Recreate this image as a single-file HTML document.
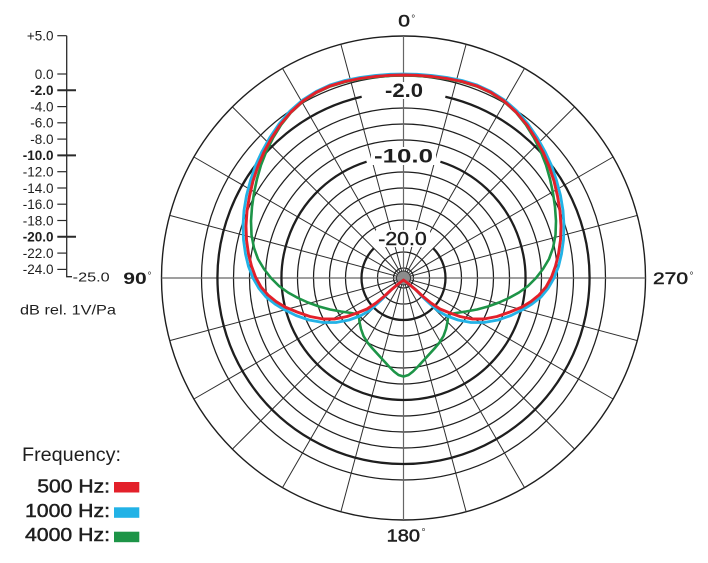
<!DOCTYPE html>
<html>
<head>
<meta charset="utf-8">
<style>
  html,body{margin:0;padding:0;background:#fff;}
  svg{display:block;}
  text{font-family:"Liberation Sans", sans-serif;fill:#1e1e1e;}
</style>
</head>
<body>
<svg width="708" height="563" viewBox="0 0 708 563" xmlns="http://www.w3.org/2000/svg">
  <rect width="708" height="563" fill="#fff"/>

  <!-- ===== Left dB scale ===== -->
  <g stroke="#2a2a2a" fill="none">
    <polyline points="66.7,35.7 66.7,276.7 72,276.7" stroke-width="1.3"/>
    <g stroke-width="1.2">
      <line x1="57.3" y1="35.7" x2="66.7" y2="35.7"/>
      <line x1="57.3" y1="74" x2="66.7" y2="74"/>
      <line x1="57.3" y1="106.6" x2="66.7" y2="106.6"/>
      <line x1="57.3" y1="122.8" x2="66.7" y2="122.8"/>
      <line x1="57.3" y1="139.1" x2="66.7" y2="139.1"/>
      <line x1="57.3" y1="171.7" x2="66.7" y2="171.7"/>
      <line x1="57.3" y1="188" x2="66.7" y2="188"/>
      <line x1="57.3" y1="204.2" x2="66.7" y2="204.2"/>
      <line x1="57.3" y1="220.5" x2="66.7" y2="220.5"/>
      <line x1="57.3" y1="253.1" x2="66.7" y2="253.1"/>
      <line x1="57.3" y1="269.4" x2="66.7" y2="269.4"/>
    </g>
    <g stroke-width="2">
      <line x1="57.3" y1="90.3" x2="76" y2="90.3"/>
      <line x1="57.3" y1="155.4" x2="76" y2="155.4"/>
      <line x1="57.3" y1="236.8" x2="76" y2="236.8"/>
    </g>
  </g>
  <g font-size="13.5" text-anchor="end">
    <text x="53.5" y="40.5">+5.0</text>
    <text x="53.5" y="78.8">0.0</text>
    <text x="53.5" y="95.1" font-weight="bold">-2.0</text>
    <text x="53.5" y="111.4">-4.0</text>
    <text x="53.5" y="127.6">-6.0</text>
    <text x="53.5" y="143.9">-8.0</text>
    <text x="53.5" y="160.2" font-weight="bold">-10.0</text>
    <text x="53.5" y="176.5">-12.0</text>
    <text x="53.5" y="192.8">-14.0</text>
    <text x="53.5" y="209">-16.0</text>
    <text x="53.5" y="225.3">-18.0</text>
    <text x="53.5" y="241.6" font-weight="bold">-20.0</text>
    <text x="53.5" y="257.9">-22.0</text>
    <text x="53.5" y="274.2">-24.0</text>
  </g>
  <text x="72.7" y="281.7" font-size="13" textLength="37" lengthAdjust="spacingAndGlyphs">-25.0</text>
  <text x="20" y="314.5" font-size="14" textLength="96" lengthAdjust="spacingAndGlyphs">dB rel. 1V/Pa</text>

  <!-- ===== Polar grid ===== -->
  <g fill="none" stroke="#1e1e1e">
    <circle cx="403.5" cy="278" r="242" stroke-width="1.4"/>
    <g stroke-width="1.25">
      <circle cx="403.5" cy="278" r="202"/>
      <circle cx="403.5" cy="278" r="170"/>
      <circle cx="403.5" cy="278" r="154"/>
      <circle cx="403.5" cy="278" r="138"/>
      <circle cx="403.5" cy="278" r="106"/>
      <circle cx="403.5" cy="278" r="90"/>
      <circle cx="403.5" cy="278" r="74"/>
      <circle cx="403.5" cy="278" r="58"/>
      <circle cx="403.5" cy="278" r="26"/>
      <circle cx="403.5" cy="278" r="10"/>
    </g>
    <g stroke-width="1" stroke="#2e2e2e">
      <line x1="466.13" y1="44.24" x2="340.87" y2="511.76"/>
      <line x1="340.87" y1="44.24" x2="466.13" y2="511.76"/>
      <line x1="524.5" y1="68.42" x2="282.5" y2="487.58"/>
      <line x1="282.5" y1="68.42" x2="524.5" y2="487.58"/>
      <line x1="574.62" y1="106.88" x2="232.38" y2="449.12"/>
      <line x1="232.38" y1="106.88" x2="574.62" y2="449.12"/>
      <line x1="613.08" y1="157" x2="193.92" y2="399"/>
      <line x1="193.92" y1="157" x2="613.08" y2="399"/>
      <line x1="637.26" y1="215.37" x2="169.74" y2="340.63"/>
      <line x1="169.74" y1="215.37" x2="637.26" y2="340.63"/>
    </g>
    <g stroke="#666" stroke-width="1.2">
      <line x1="403.5" y1="36" x2="403.5" y2="520"/>
      <line x1="161.5" y1="278" x2="645.5" y2="278"/>
    </g>
    <!-- bold rings with gaps for labels -->
    <g stroke-width="2.3">
      <path d="M361.66,96.77 A186,186 0 1 0 445.34,96.77"/>
      <path d="M366.6,161.7 A122,122 0 1 0 440.4,161.7"/>
      <path d="M373.8,248.3 A42,42 0 1 0 433.2,248.3"/>
    </g>
    <circle cx="403.5" cy="278" r="7" fill="#8c8c8c" stroke="#333" stroke-width="1"/>
  </g>

  <!-- label backgrounds -->
  <rect x="382" y="82" width="44" height="17" fill="#fff"/>
  <rect x="371" y="147" width="65" height="18" fill="#fff"/>
  <rect x="376" y="230" width="54" height="17" fill="#fff"/>

  <!-- ring labels -->
  <text x="385" y="97" font-size="19" font-weight="bold" textLength="38" lengthAdjust="spacingAndGlyphs">-2.0</text>
  <text x="374" y="162.5" font-size="19" font-weight="bold" textLength="59" lengthAdjust="spacingAndGlyphs">-10.0</text>
  <text x="378.3" y="245" font-size="18" stroke="#1e1e1e" stroke-width="0.4" textLength="48.4" lengthAdjust="spacingAndGlyphs">-20.0</text>

  <!-- ===== Curves ===== -->
  <g fill="none" stroke-linejoin="round" stroke-linecap="round">
    <!-- 4000 Hz green -->
    <polyline stroke="#1d9447" stroke-width="2.6" points="
      403.5,75.5 390,75.8 375,77 360,79 345,82 330,86.5 316,93 303,101.5 291,112.5 281,125 273,138 266.5,151 261,165 257,179 254,193 252,207 251,221 251.5,235 254,248 258,259 264,269 271,278 279,286 288,292.5 298,298 308,302.5 319,306.5 330,309.5 341,311.5 351,313 356.5,314 359,316.5 359.5,322 361,329 363.5,336 367.5,342.5 372.5,348.5 378,354.5 383.5,360.5 389,366.5 394,371.5 398.5,375 403.5,376.5
      408.5,375 413,371.5 418,366.5 423.5,360.5 429,354.5 434.5,348.5 439.5,342.5 443.5,336 446,329 447.5,322 448,316.5 450.5,314 456,313 466,311.5 477,309.5 488,306.5 499,302.5 509,298 519,292.5 528,286 536,278 543,269 549,259 553,248 555.5,235 556,221 555,207 553,193 550,179 546,165 540.5,151 534,138 526,125 516,112.5 504,101.5 491,93 477,86.5 462,82 447,79 432,77 417,75.8 403.5,75.5"/>
    <!-- 1000 Hz blue -->
    <polyline stroke="#22b2e6" stroke-width="2.8" points="
      403.5,74 390,74.3 375,75.5 360,77.5 345,80.5 330,85 316,91.5 302.5,100 290,111 279,124 269.5,138 262,151.5 255.5,165.5 250.5,180.5 246.5,195.5 244,210.5 243,225.5 243.5,240 245.5,254 248.5,266.5 253,278 259,288.5 266,297 275,304 284,309.5 296,315.5 309,320 323,322.5 336,322.5 349,320 360,316 369,311 377,304 384.5,297 391,290 397.5,284.5 403.5,280
      409.5,284.5 416,290 422.5,297 430,304 438,311 447,316 458,320 471,322.5 484,322.5 498,320 511,315.5 523,309.5 532,304 541,297 548,288.5 554,278 558.5,266.5 561.5,254 563.5,240 564,225.5 563,210.5 560.5,195.5 556.5,180.5 551.5,165.5 545,151.5 537.5,138 528,124 517,111 504.5,100 491,91.5 477,85 462,80.5 447,77.5 432,75.5 417,74.3 403.5,74"/>
    <!-- 500 Hz red -->
    <polyline stroke="#e3202a" stroke-width="2.9" points="
      403.5,75 390,75.3 375,76.5 360,78.5 345,81.5 330,86 316,92.5 303,101 291,112 280,125 271,139 264,152 258,166 253,181 249.5,196 247,211 246,226 246.5,240 248.5,254 251.5,266 255.5,277 261,287 268,295 276,301.5 285,307 297,312 310,316.5 323,319 335,319 347,316.5 357,313 367,309 376,303 384,296.5 391,290 397.5,284.5 403.5,280
      409.5,284.5 416,290 423,296.5 431,303 440,309 450,313 460,316.5 472,319 484,319 497,316.5 510,312 522,307 531,301.5 539,295 546,287 551.5,277 555.5,266 558.5,254 560.5,240 561,226 560,211 557.5,196 554,181 549,166 543,152 536,139 527,125 516,112 504,101 491,92.5 477,86 462,81.5 447,78.5 432,76.5 417,75.3 403.5,75"/>
  </g>

  <!-- ===== Angle labels ===== -->
  <text x="398.3" y="26.7" font-size="17" stroke="#1e1e1e" stroke-width="0.5" textLength="11.7" lengthAdjust="spacingAndGlyphs">0</text>
  <text x="411.2" y="22" font-size="10">°</text>
  <text x="123.3" y="284" font-size="17" font-weight="bold" textLength="23.4" lengthAdjust="spacingAndGlyphs">90</text>
  <text x="147.5" y="279" font-size="10">°</text>
  <text x="653" y="284" font-size="17" stroke="#1e1e1e" stroke-width="0.5" textLength="35" lengthAdjust="spacingAndGlyphs">270</text>
  <text x="689.5" y="279" font-size="10">°</text>
  <text x="386.7" y="541.7" font-size="17.5" stroke="#1e1e1e" stroke-width="0.5" textLength="33.3" lengthAdjust="spacingAndGlyphs">180</text>
  <text x="421.5" y="535.5" font-size="10">°</text>

  <!-- ===== Legend ===== -->
  <text x="22" y="461" font-size="19.5" textLength="99" lengthAdjust="spacingAndGlyphs">Frequency:</text>
  <g font-size="18.5" text-anchor="end" stroke="#1e1e1e" stroke-width="0.45">
    <text x="110" y="492.3" textLength="72.7" lengthAdjust="spacingAndGlyphs">500 Hz:</text>
    <text x="110" y="517" textLength="85" lengthAdjust="spacingAndGlyphs">1000 Hz:</text>
    <text x="110" y="541" textLength="85" lengthAdjust="spacingAndGlyphs">4000 Hz:</text>
  </g>
  <rect x="114" y="482" width="25.3" height="10.5" fill="#e3202a"/>
  <rect x="114" y="507.3" width="25.3" height="10.5" fill="#22b2e6"/>
  <rect x="114" y="531.7" width="25.3" height="10.5" fill="#1d9447"/>
</svg>
</body>
</html>
